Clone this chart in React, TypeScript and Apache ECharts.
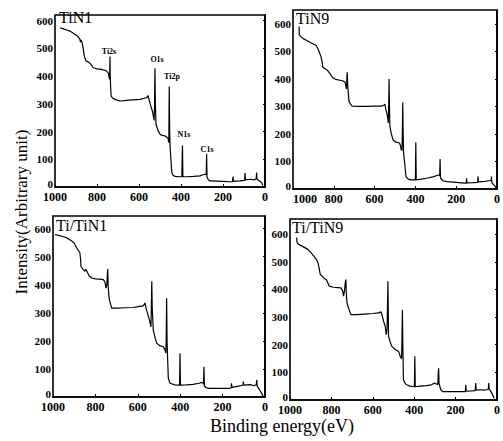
import React, { useEffect, useRef } from "react";
import * as echarts from "echarts";

// Binding energy (eV) vs intensity (arbitrary unit)
const panelNames = ["TiN1", "TiN9", "Ti/TiN1", "Ti/TiN9"];
const xTickStep = 200;
const yTickStep = 100;

const tin1: number[][] = [
  [976, 574], [960, 570], [940, 565], [929, 562], [915, 555], [900, 548], [890, 542], [881, 532],
  [879, 522], [877, 530], [870, 518], [865, 496], [860, 470], [852, 454], [845, 452], [833, 446],
  [825, 438], [818, 430], [800, 426], [780, 424], [760, 420], [754, 418], [746, 410], [742, 395],
  [740, 388], [739, 430], [738, 470], [737, 400], [735, 360], [733, 328], [725, 320], [714, 316],
  [700, 312], [690, 310], [660, 312], [630, 314], [595, 316], [575, 320], [563, 322], [557, 330],
  [553, 318], [545, 295], [535, 270], [532, 256], [528, 240], [526, 300], [524, 428], [522, 300],
  [519, 226], [510, 205], [500, 190], [490, 186], [476, 184], [468, 180], [462, 175], [460, 168],
  [458, 160], [456, 362], [454, 200], [452, 148], [448, 100], [444, 53], [438, 42], [429, 38],
  [410, 37], [396, 37], [393, 150], [391, 37], [370, 37], [340, 38], [310, 40], [295, 44],
  [286, 46], [280, 44], [278, 120], [276, 36], [270, 26], [262, 22], [230, 21], [200, 20],
  [170, 19], [155, 19], [152, 38], [150, 20], [120, 22], [97, 24], [95, 50], [93, 26],
  [70, 28], [50, 26], [42, 30], [40, 52], [38, 28], [25, 22], [15, 14], [10, 5]
];

const tin9: number[][] = [
  [970, 590], [969, 560], [960, 552], [950, 546], [930, 538], [910, 530], [886, 521], [875, 505],
  [862, 479], [856, 455], [854, 442], [845, 438], [830, 430], [818, 418], [806, 405], [790, 398],
  [770, 395], [758, 393], [745, 388], [738, 363], [736, 400], [734, 424], [732, 380], [728, 340],
  [726, 320], [718, 308], [710, 301], [680, 300], [640, 300], [600, 301], [566, 301], [555, 304],
  [550, 308], [545, 290], [540, 275], [537, 265], [533, 240], [531, 300], [529, 399], [527, 290],
  [525, 228], [518, 200], [510, 179], [495, 170], [478, 167], [472, 155], [470, 143], [466, 140],
  [464, 200], [462, 314], [460, 200], [458, 131], [452, 90], [446, 45], [435, 36], [421, 33],
  [405, 33], [400, 33], [398, 170], [396, 33], [370, 36], [340, 40], [309, 45], [295, 49],
  [285, 51], [281, 48], [279, 109], [277, 40], [265, 30], [245, 27], [200, 24], [160, 21],
  [151, 21], [149, 39], [147, 22], [120, 23], [95, 24], [93, 45], [91, 26], [60, 28],
  [40, 30], [29, 30], [27, 45], [25, 22], [12, 12], [3, 3]
];

const tiTin1: number[][] = [
  [991, 579], [970, 575], [950, 571], [935, 567], [915, 558], [900, 548], [888, 531], [880, 522],
  [873, 513], [870, 490], [868, 465], [858, 455], [849, 448], [845, 455], [840, 448], [830, 432],
  [817, 424], [800, 421], [780, 420], [763, 418], [755, 410], [750, 388], [746, 400], [742, 456],
  [740, 400], [737, 365], [734, 346], [728, 330], [723, 317], [700, 317], [660, 318], [621, 319],
  [600, 322], [574, 325], [566, 335], [562, 320], [555, 300], [545, 275], [542, 263], [538, 250],
  [536, 320], [534, 412], [532, 320], [527, 239], [518, 210], [511, 192], [495, 182], [480, 180],
  [472, 168], [468, 156], [466, 200], [464, 352], [462, 200], [459, 130], [456, 67], [448, 49],
  [425, 43], [410, 42], [403, 42], [401, 156], [399, 42], [370, 43], [340, 45], [310, 49],
  [300, 52], [292, 50], [290, 45], [288, 108], [286, 40], [277, 33], [267, 31], [230, 31],
  [200, 31], [170, 31], [160, 32], [158, 49], [156, 34], [130, 38], [104, 42], [102, 55],
  [100, 42], [70, 44], [50, 40], [41, 45], [39, 61], [37, 38], [25, 25], [15, 12], [8, 2]
];

const tiTin9: number[][] = [
  [968, 588], [966, 570], [960, 564], [940, 556], [913, 545], [895, 530], [880, 516], [873, 509],
  [865, 497], [860, 480], [854, 455], [845, 448], [835, 440], [825, 436], [818, 425], [810, 412],
  [790, 408], [770, 407], [754, 406], [746, 395], [741, 376], [736, 400], [733, 425], [730, 436],
  [728, 390], [725, 352], [716, 330], [706, 309], [680, 309], [640, 311], [600, 313], [571, 315],
  [564, 318], [560, 319], [556, 309], [548, 285], [540, 267], [535, 236], [531, 260], [529, 340],
  [527, 430], [525, 300], [524, 230], [516, 210], [508, 194], [490, 182], [476, 176], [470, 165],
  [468, 158], [461, 150], [459, 220], [457, 327], [455, 200], [452, 73], [445, 62], [437, 55],
  [420, 50], [405, 48], [399, 48], [397, 158], [395, 48], [370, 50], [340, 52], [317, 55],
  [302, 61], [290, 57], [286, 55], [284, 90], [282, 115], [280, 60], [272, 38], [262, 30],
  [230, 30], [200, 30], [159, 30], [153, 30], [151, 55], [149, 32], [125, 33], [105, 34],
  [103, 61], [101, 36], [80, 37], [60, 36], [45, 38], [42, 40], [40, 61], [38, 40],
  [25, 25], [14, 6]
];

const seriesData = [tin1, tin9, tiTin1, tiTin9];

const peakNames = ["Ti2s", "O1s", "Ti2p", "N1s", "C1s"];
const peakLabelAt: number[][] = [[743, 487], [514, 458], [443, 397], [386, 188], [276, 134]];

const yMaxes = [620, 650, 645, 655];

const grids = [
  { left: 55, top: 15, width: 210, height: 172 },
  { left: 293, top: 10, width: 208, height: 179 },
  { left: 53, top: 216, width: 212, height: 181 },
  { left: 290, top: 219, width: 210, height: 181 },
];

const nameOffsets = [
  [59, 9],
  [296, 10],
  [56, 217],
  [292, 219],
];

const minLabelAlign = ["center", "left", "center", "center"];

const FONT = "Liberation Serif, Times New Roman, serif";

export default function App() {
  const ref = useRef<HTMLDivElement>(null);
  useEffect(() => {
    if (!ref.current) return;
    const chart = echarts.init(ref.current, undefined, { renderer: "svg" });
    const option: any = {
      animation: false,
      backgroundColor: "#ffffff",
      grid: grids.map((g) => ({
        ...g,
        show: true,
        borderColor: "#000",
        borderWidth: 1.6,
        backgroundColor: "transparent",
        containLabel: false,
      })),
      xAxis: grids.map((_, i) => ({
        type: "value",
        gridIndex: i,
        min: 0,
        max: 1000,
        interval: xTickStep,
        inverse: true,
        axisLine: { show: true, lineStyle: { color: "#000", width: 1.6 } },
        axisTick: { show: true, inside: true, length: 3, lineStyle: { color: "#000" } },
        axisLabel: {
          margin: 4,
          color: "#000",
          fontFamily: FONT,
          fontSize: 12,
          fontWeight: "bold",
          alignMaxLabel: minLabelAlign[i],
          formatter: (v: number) => String(v),
        },
        splitLine: { show: false },
      })),
      yAxis: grids.map((_, i) => ({
        type: "value",
        gridIndex: i,
        min: 0,
        max: yMaxes[i],
        interval: yTickStep,
        axisLine: { show: true, lineStyle: { color: "#000", width: 1.6 } },
        axisTick: { show: true, inside: false, length: 2, lineStyle: { color: "#000" } },
        axisLabel: {
          margin: 2,
          color: "#000",
          fontFamily: FONT,
          fontSize: 11,
          fontWeight: "bold",
          showMaxLabel: false,
          formatter: (v: number) =>
            v === 0 ? "{z|0}" : v % 100 === 0 ? String(v) : "",
          rich: {
            z: {
              fontFamily: FONT,
              fontSize: 11,
              fontWeight: "bold",
              color: "#000",
              padding: [0, 0, 7, 0],
            },
          },
        },
        splitLine: { show: false },
      })),
      series: seriesData.map((d, i) => ({
        type: "line",
        xAxisIndex: i,
        yAxisIndex: i,
        data: d,
        showSymbol: false,
        symbol: "none",
        lineStyle: { color: "#000", width: 1.2 },
        silent: true,
        markPoint:
          i === 0
            ? {
                symbol: "circle",
                symbolSize: 0,
                silent: true,
                label: {
                  show: true,
                  position: "inside",
                  formatter: "{b}",
                  color: "#000",
                  fontFamily: FONT,
                  fontSize: 8,
                  fontWeight: "bold",
                },
                data: peakNames.map((n, k) => ({ name: n, coord: peakLabelAt[k] })),
              }
            : undefined,
      })),
      graphic: [
        ...panelNames.map((n, i) => ({
          type: "text",
          left: nameOffsets[i][0],
          top: nameOffsets[i][1],
          style: { text: n, fill: "#000", font: `16px ${FONT}` },
          z: 10,
        })),
        {
          type: "text",
          x: 21,
          y: 212,
          rotation: Math.PI / 2,
          style: {
            text: "Intensity(Arbitrary unit)",
            fill: "#000",
            font: `17px ${FONT}`,
            align: "center",
            verticalAlign: "middle",
          },
        },
        {
          type: "text",
          x: 282,
          y: 426,
          style: {
            text: "Binding energy(eV)",
            fill: "#000",
            font: `18px ${FONT}`,
            align: "center",
            verticalAlign: "middle",
          },
        },
      ],
    };
    chart.setOption(option);
    return () => chart.dispose();
  }, []);
  return (
    <div
      ref={ref}
      style={{ position: "fixed", left: 0, top: 0, width: 503, height: 441 }}
    />
  );
}
